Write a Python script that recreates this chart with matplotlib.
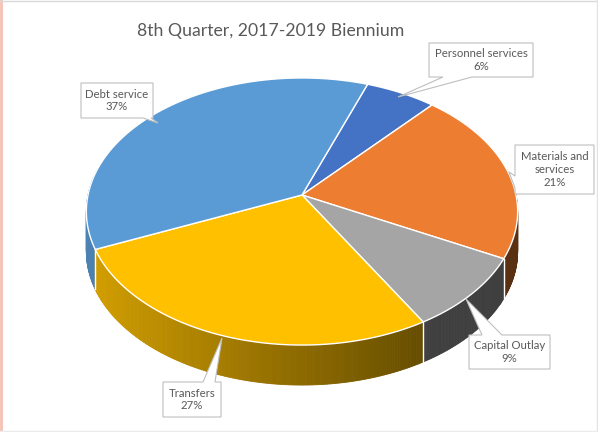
import numpy as np
import matplotlib.pyplot as plt
from matplotlib.colors import to_rgb

# %%
# Data
# ------------------------------------------
labels = ["Personnel services", "Materials and\nservices", "Capital Outlay", "Transfers", "Debt service"]
shares = [6, 21, 9, 27, 37]
colors = ["#4472C4", "#ED7D31", "#A5A5A5", "#FFC000", "#5B9BD5"]
title = "8th Quarter, 2017-2019 Biennium"

# %%
# Geometry of the tilted pie (screen pixels, y down)
# ------------------------------------------
start = 20           # first slice angle, deg clockwise from 12 o'clock
cx, cy = 302, 195    # projected pie centre
a, b, p = 214, 131.5, 0.1236
depth = 40

# callout boxes: (left, top, right, bottom), side of pointer, base, tip
callouts = [
    ((429, 43, 533, 77), "bottom", (472, 443), (398, 97)),
    ((515, 145, 594, 194), "left", (176, 188), (509, 172)),
    ((469, 335, 550, 369), "top", (482, 502), (466, 299)),
    ((163, 382, 221, 417), "top", (203, 215), (222, 338)),
    ((81, 83, 153, 118), "bottom", (151, 143), (158, 123)),
]


def proj(theta, drop=0.0):
    t = np.radians(theta)
    u, v = np.sin(t), -np.cos(t)
    w = 1 - p * v
    return cx + a * u / w, cy + b * v / w + drop


def shade(col, theta):
    u = np.sin(np.radians(theta))
    f = np.clip(0.55 - 0.3 * u, 0.38, 0.85)
    return tuple(c * f for c in to_rgb(col))


fig = plt.figure(figsize=(5.98, 4.32), dpi=100)
ax = fig.add_axes([0, 0, 1, 1])
ax.set_xlim(0, 598)
ax.set_ylim(432, 0)
ax.axis("off")

bounds = start + 3.6 * np.concatenate([[0], np.cumsum(shares)])

# side walls, back to front
segs = []
for i, col in enumerate(colors):
    th = np.arange(bounds[i], bounds[i + 1], 0.5)
    th = np.append(th, bounds[i + 1])
    for t0, t1 in zip(th[:-1], th[1:]):
        tm = 0.5 * (t0 + t1)
        segs.append((-np.cos(np.radians(tm)), t0, t1, col))
segs.sort(key=lambda s: s[0])
for v, t0, t1, col in segs:
    if v < -0.2:
        continue
    x0, y0 = proj(t0)
    x1, y1 = proj(t1)
    c = shade(col, 0.5 * (t0 + t1))
    ax.fill([x0, x1, x1, x0], [y0, y1, y1 + depth, y0 + depth],
            facecolor=c, edgecolor=c, lw=0.6)

# white seams on the visible wall edges
for t in bounds[1:]:
    if -np.cos(np.radians(t)) > 0:
        x, y = proj(t)
        ax.plot([x, x], [y, y + depth], color="white", lw=1)

# top face
for i, col in enumerate(colors):
    th = np.linspace(bounds[i], bounds[i + 1], 100)
    xs, ys = proj(th)
    ax.fill(np.r_[cx, xs], np.r_[cy, ys], facecolor=col, edgecolor="white", lw=1)

# callouts
for (lab, share), (box, side, base, tip) in zip(zip(labels, shares), callouts):
    l, t, r, btm = box
    if side == "bottom":
        pts = [(l, t), (r, t), (r, btm), (base[0], btm), tip, (base[1], btm), (l, btm)]
    elif side == "top":
        pts = [(l, t), (base[0], t), tip, (base[1], t), (r, t), (r, btm), (l, btm)]
    else:
        pts = [(l, t), (r, t), (r, btm), (l, btm), (l, base[1]), tip, (l, base[0])]
    ax.fill(*zip(*pts), facecolor="white", edgecolor="#BFBFBF", lw=0.8, zorder=5)
    ax.text((l + r) / 2, (t + btm) / 2, f"{lab}\n{share}%", ha="center", va="center",
            fontsize=8.2, color="#595959", family="Lato", linespacing=1.2, zorder=6)

ax.text(271, 31, title, ha="center", va="center", fontsize=12.7, color="#595959", family="Lato")

# frame of the screenshot
ax.plot([1, 1], [0, 432], color="#F6C0B2", lw=2)
ax.plot([0, 598], [0.5, 0.5], color="#D9D9D9", lw=1)
ax.plot([597, 597], [0, 432], color="#E3E3E3", lw=1)
ax.plot([0, 598], [431, 431], color="#EBEBEB", lw=1)

fig.savefig("out.png", dpi=100)
